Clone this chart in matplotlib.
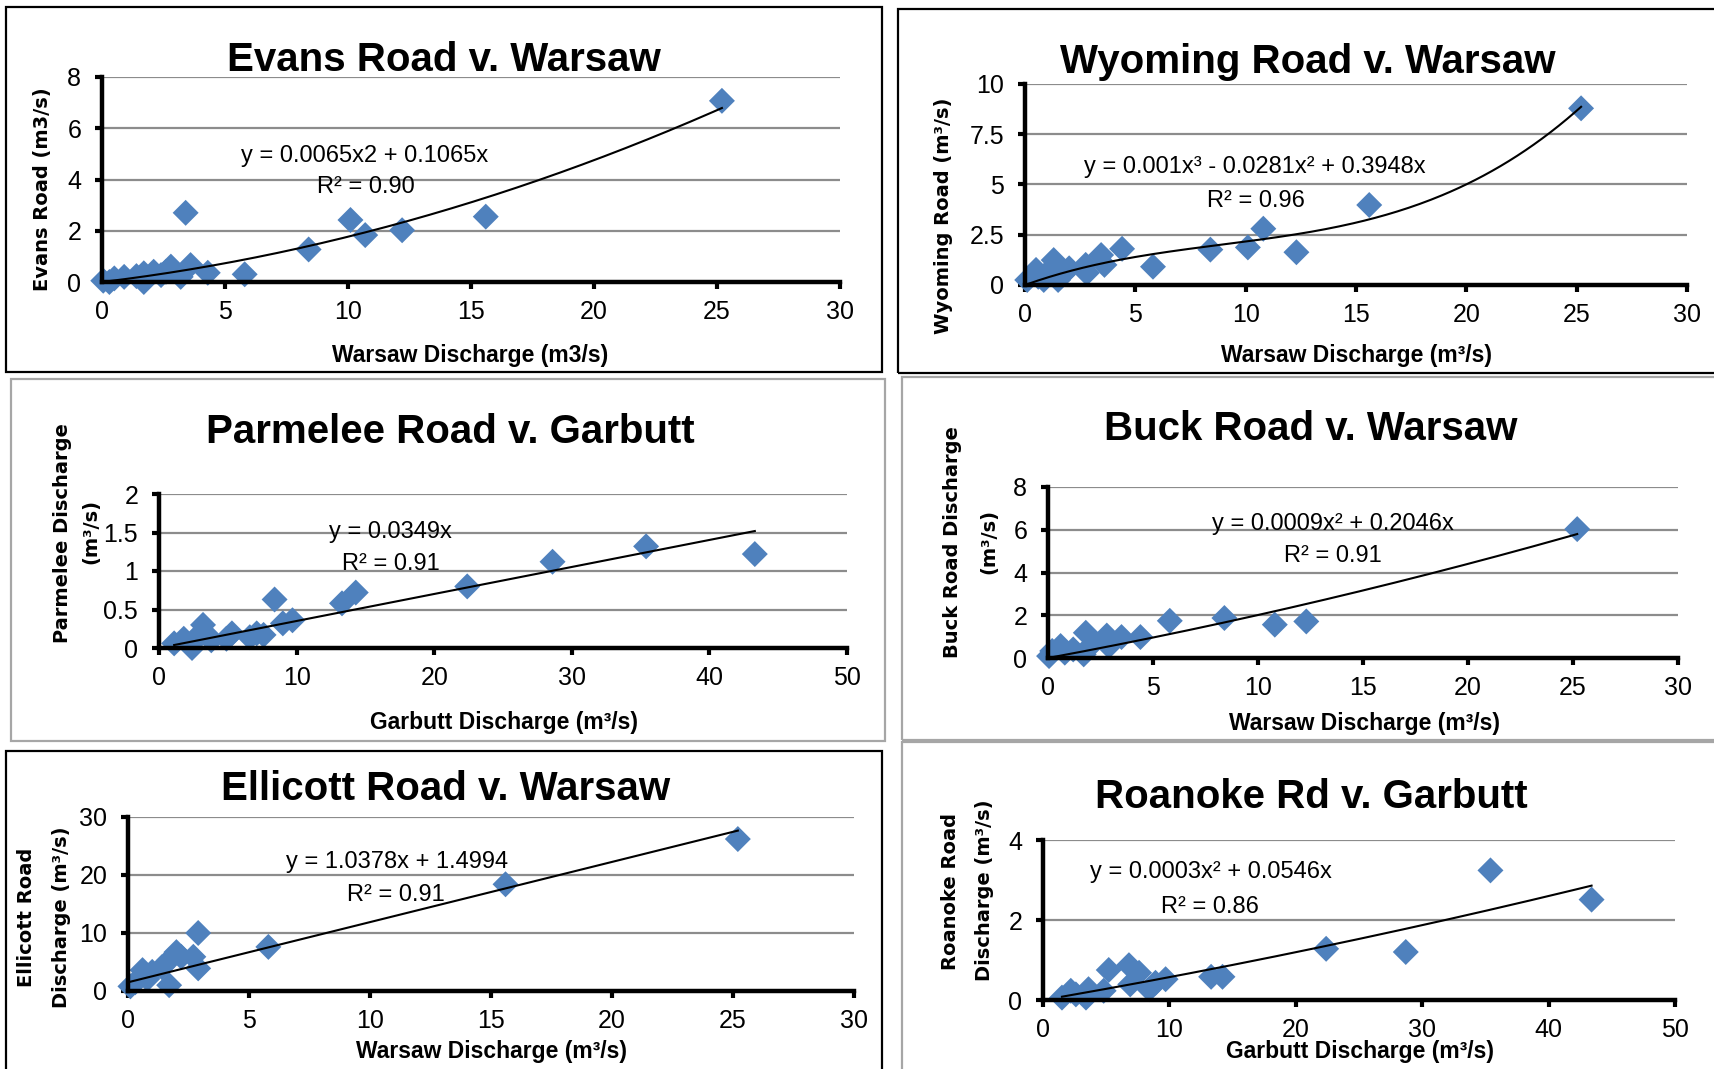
import matplotlib
matplotlib.use('Agg')
import matplotlib.pyplot as plt
import numpy as np
from matplotlib.patches import Rectangle
from matplotlib.ticker import FixedLocator, FuncFormatter

# data
evans_x = [0.05, 0.3, 0.5, 0.9, 1.4, 1.7, 1.7, 2.1, 2.4, 2.6, 2.8, 3.2, 3.4, 3.6, 4.3, 5.8, 8.4, 10.1, 10.7, 12.2, 15.6, 25.2]
evans_y = [0.05, 0.0, 0.14, 0.2, 0.23, 0.34, 0.0, 0.4, 0.27, 0.4, 0.6, 0.2, 2.7, 0.66, 0.36, 0.3, 1.27, 2.42, 1.83, 2.02, 2.55, 7.07]

wyoming_x = [0.1, 0.5, 0.6, 0.85, 1.2, 1.3, 1.5, 1.7, 2.0, 2.75, 2.8, 3.45, 3.6, 4.4, 5.8, 8.4, 10.1, 10.8, 12.3, 15.6, 25.2]
wyoming_y = [0.25, 0.75, 0.41, 0.25, 0.83, 1.24, 0.25, 0.5, 0.83, 1.0, 0.6, 1.49, 1.0, 1.8, 0.91, 1.76, 1.87, 2.8, 1.63, 3.98, 8.79]

parmelee_x = [1.1, 1.8, 2.4, 2.6, 3.0, 3.2, 3.5, 3.8, 4.9, 5.3, 6.6, 7.1, 7.6, 8.4, 9.0, 9.7, 13.3, 14.3, 22.4, 28.6, 35.4, 43.3]
parmelee_y = [0.06, 0.12, 0.0, 0.1, 0.19, 0.30, 0.17, 0.10, 0.12, 0.19, 0.14, 0.19, 0.17, 0.63, 0.32, 0.36, 0.58, 0.72, 0.80, 1.12, 1.32, 1.22]

buck_x = [0.05, 0.2, 0.6, 0.8, 1.2, 1.7, 1.8, 2.1, 2.8, 2.9, 3.5, 4.4, 5.8, 8.4, 10.8, 12.3, 25.2]
buck_y = [0.09, 0.33, 0.56, 0.25, 0.40, 0.17, 1.18, 0.64, 1.05, 0.56, 0.98, 0.98, 1.74, 1.87, 1.56, 1.71, 6.03]

ellicott_x = [0.1, 0.3, 0.6, 0.8, 1.0, 1.4, 1.7, 1.7, 2.0, 2.2, 2.7, 2.9, 2.9, 5.8, 15.6, 25.2]
ellicott_y = [0.8, 1.5, 3.6, 2.1, 3.3, 4.1, 1.0, 5.3, 6.7, 5.9, 5.9, 3.9, 10.0, 7.6, 18.4, 26.2]

roanoke_x = [1.5, 2.2, 2.6, 3.4, 3.6, 4.8, 5.2, 6.8, 6.9, 7.6, 8.4, 8.9, 9.7, 13.3, 14.2, 22.4, 28.7, 35.4, 43.4]
roanoke_y = [0.06, 0.23, 0.14, 0.06, 0.27, 0.23, 0.75, 0.87, 0.39, 0.68, 0.27, 0.43, 0.52, 0.58, 0.58, 1.28, 1.2, 3.24, 2.51]

titles = ['Evans Road v. Warsaw', 'Wyoming Road v. Warsaw', 'Parmelee Road v. Garbutt',
          'Buck Road v. Warsaw', 'Ellicott Road v. Warsaw', 'Roanoke Rd v. Garbutt']
xlabels = ['Warsaw Discharge (m3/s)', 'Warsaw Discharge (m\u00b3/s)', 'Garbutt Discharge (m\u00b3/s)',
           'Warsaw Discharge (m\u00b3/s)', 'Warsaw Discharge (m\u00b3/s)', 'Garbutt Discharge (m\u00b3/s)']
ylabels = [['Evans Road (m3/s)'], ['Wyoming Road (m\u00b3/s)'], ['Parmelee Discharge', '(m\u00b3/s)'],
           ['Buck Road Discharge', '(m\u00b3/s)'], ['Ellicott Road', 'Discharge (m\u00b3/s)'],
           ['Roanoke Road', 'Discharge (m\u00b3/s)']]
equations = ['y = 0.0065x2 + 0.1065x', 'y = 0.001x\u00b3 - 0.0281x\u00b2 + 0.3948x', 'y = 0.0349x',
             'y = 0.0009x\u00b2 + 0.2046x', 'y = 1.0378x + 1.4994', 'y = 0.0003x\u00b2 + 0.0546x']
r2_labels = ['R\u00b2 = 0.90', 'R\u00b2 = 0.96', 'R\u00b2 = 0.91', 'R\u00b2 = 0.91', 'R\u00b2 = 0.91', 'R\u00b2 = 0.86']
# trend term powers (0 = intercept)
trend_powers = [[1, 2], [1, 2, 3], [1], [1, 2], [0, 1], [1, 2]]
# printed coefficients used where given in full (None = least-squares fit to the points)
trend_coefs = [None, None, None, None, [1.4994, 1.0378], None]
xticks = [np.arange(0, 31, 5), np.arange(0, 31, 5), np.arange(0, 51, 10),
          np.arange(0, 31, 5), np.arange(0, 31, 5), np.arange(0, 51, 10)]
yticks = [np.arange(0, 9, 2), np.arange(0, 10.1, 2.5), np.arange(0, 2.1, 0.5),
          np.arange(0, 9, 2), np.arange(0, 31, 10), np.arange(0, 5, 2)]

xs = [evans_x, wyoming_x, parmelee_x, buck_x, ellicott_x, roanoke_x]
ys = [evans_y, wyoming_y, parmelee_y, buck_y, ellicott_y, roanoke_y]

W, H = 1715, 1069
BLUE = '#4F81BD'
NARROW = 'Liberation Sans'
WIDE = 'DejaVu Sans'

def fx(px):
    return px / W

def fy(py):
    return 1 - py / H

# layout in pixels: axes (x0, x1, ytop, ybottom), title (cx, baseline), eq (cx, baseline), r2 baseline,
# xlabel (cx, baseline), ylabel centres [(x, y), ...]
layout = [
    dict(ax=(102, 840, 77, 282), title=(444, 71), eq=(365, 162), r2=(366, 193), xl=(470, 362),
         yl=[(43, 189)]),
    dict(ax=(1025, 1687, 84, 285), title=(1308, 73), eq=(1255, 173), r2=(1256, 207), xl=(1357, 362),
         yl=[(944, 216)]),
    dict(ax=(159, 847, 494, 648), title=(450, 443), eq=(390, 538), r2=(391, 570), xl=(504, 729),
         yl=[(63, 533), (91, 532)]),
    dict(ax=(1048, 1678, 487, 658), title=(1311, 440), eq=(1333, 530), r2=(1333, 562), xl=(1365, 730),
         yl=[(953, 542), (989, 541)]),
    dict(ax=(128, 854, 817, 991), title=(446, 800), eq=(397, 868), r2=(396, 901), xl=(492, 1058),
         yl=[(27, 917), (62, 917)]),
    dict(ax=(1043, 1675, 840, 1000), title=(1311, 808), eq=(1211, 878), r2=(1210, 913), xl=(1360, 1058),
         yl=[(950, 891), (985, 890)]),
]

# panel frames (x0, y0, x1, y1, colour)
frames = [(6, 7, 882, 372, 'black'), (898, 9, 1730, 373, 'black'),
          (11, 379, 885, 741, '#a6a6a6'), (902, 377, 1730, 740, '#a6a6a6'),
          (6, 751, 882, 1090, 'black'), (902, 742, 1730, 1090, '#a6a6a6')]


def trend_line(x, y, powers, coefs=None):
    x = np.asarray(x, float)
    if coefs is None:
        A = np.column_stack([x ** p for p in powers])
        coefs, *_ = np.linalg.lstsq(A, np.asarray(y, float), rcond=None)
    xx = np.linspace(x.min(), x.max(), 200)
    yy = np.column_stack([xx ** p for p in powers]) @ np.asarray(coefs)
    return xx, yy


fig = plt.figure(figsize=(W / 100, H / 100), dpi=100)
fig.patch.set_facecolor('white')

for x0, y0, x1, y1, c in frames:
    fig.add_artist(Rectangle((fx(x0), fy(y1)), (x1 - x0) / W, (y1 - y0) / H,
                             transform=fig.transFigure, fill=False, ec=c, lw=1.6))

for i in range(6):
    L = layout[i]
    ax0, ax1, at, ab = L['ax']
    ax = fig.add_axes([fx(ax0), fy(ab), (ax1 - ax0) / W, (ab - at) / H])
    ax.set_xlim(xticks[i][0], xticks[i][-1])
    ax.set_ylim(yticks[i][0], yticks[i][-1])
    ax.xaxis.set_major_locator(FixedLocator(xticks[i]))
    ax.yaxis.set_major_locator(FixedLocator(yticks[i]))
    fmt = FuncFormatter(lambda v, p: '{:g}'.format(v))
    ax.xaxis.set_major_formatter(fmt)
    ax.yaxis.set_major_formatter(fmt)
    ax.grid(axis='y', color='#8c8c8c', lw=1.6)
    ax.set_axisbelow(True)
    for s in ['top', 'right']:
        ax.spines[s].set_visible(False)
    for s in ['left', 'bottom']:
        ax.spines[s].set_linewidth(3.2)
        ax.spines[s].set_zorder(5)
    ax.tick_params(axis='both', direction='out', length=5, width=3, labelsize=18)
    ax.tick_params(axis='x', pad=8)
    ax.tick_params(axis='y', pad=10)
    for lab in ax.get_xticklabels() + ax.get_yticklabels():
        lab.set_family(NARROW)

    ax.scatter(xs[i], ys[i], marker='D', s=175, color=BLUE, edgecolors='none',
               clip_on=False, zorder=3)
    tx, ty = trend_line(xs[i], ys[i], trend_powers[i], trend_coefs[i])
    ax.plot(tx, ty, color='black', lw=1.5, zorder=4, clip_on=False)

    fig.text(fx(L['title'][0]), fy(L['title'][1]), titles[i], ha='center', va='baseline',
             fontsize=29, fontweight='bold', family=NARROW)
    fig.text(fx(L['eq'][0]), fy(L['eq'][1]), equations[i], ha='center', va='baseline',
             fontsize=17, family=NARROW)
    fig.text(fx(L['r2'][0]), fy(L['r2'][1]), r2_labels[i], ha='center', va='baseline',
             fontsize=17, family=NARROW)
    fig.text(fx(L['xl'][0]), fy(L['xl'][1]), xlabels[i], ha='center', va='baseline',
             fontsize=16.5, fontweight='bold', family=NARROW)
    for (lx, ly), txt in zip(L['yl'], ylabels[i]):
        fig.text(fx(lx), fy(ly), txt, ha='center', va='center', rotation=90,
                 fontsize=14, fontweight='bold', family=WIDE)

fig.savefig('out.png', dpi=100, facecolor='white')
